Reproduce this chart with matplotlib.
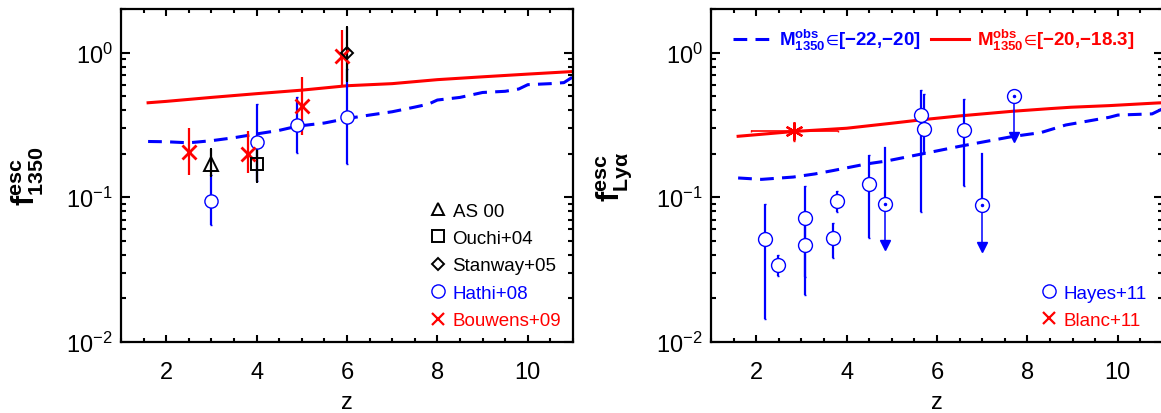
import numpy as np
import matplotlib
matplotlib.use('Agg')
import matplotlib.pyplot as plt
from matplotlib.lines import Line2D
from matplotlib.ticker import MultipleLocator, LogLocator, NullFormatter

plt.rcParams['font.family'] = ['Liberation Sans', 'DejaVu Sans']
plt.rcParams['mathtext.fontset'] = 'custom'
plt.rcParams['mathtext.rm'] = 'Liberation Sans'
plt.rcParams['mathtext.it'] = 'Liberation Sans:italic'
plt.rcParams['mathtext.bf'] = 'Liberation Sans:bold'
plt.rcParams['mathtext.fallback'] = 'stix'

# ---- left panel: f_esc 1350 ----
left_red_z = [1.6, 2.0, 3.0, 4.0, 5.0, 6.0, 7.0, 8.0, 9.0, 10.0, 11.0]
left_red_f = [0.45, 0.46, 0.49, 0.52, 0.55, 0.59, 0.61, 0.65, 0.68, 0.71, 0.74]
left_blue_z = [1.6, 2.0, 2.5, 3.0, 3.5, 4.0, 4.5, 4.9, 5.5, 6.0, 6.5, 7.0, 7.5, 7.8,
               8.0, 8.5, 9.0, 9.5, 9.8, 10.0, 10.5, 10.8, 11.0]
left_blue_f = [0.243, 0.242, 0.238, 0.246, 0.258, 0.274, 0.29, 0.31, 0.326, 0.35, 0.37,
               0.39, 0.42, 0.44, 0.47, 0.49, 0.53, 0.54, 0.56, 0.60, 0.61, 0.62, 0.68]

bouwens_z = [2.5, 3.8, 5.0, 5.9]
bouwens_f = [0.205, 0.20, 0.43, 0.94]
bouwens_lo = [0.143, 0.148, 0.27, 0.585]
bouwens_hi = [0.30, 0.285, 0.68, 1.44]

hathi_z = [3.0, 4.0, 4.9, 6.0]
hathi_f = [0.095, 0.24, 0.318, 0.357]
hathi_lo = [0.064, 0.13, 0.203, 0.17]
hathi_hi = [0.142, 0.44, 0.49, 0.77]

as00_z, as00_f, as00_lo, as00_hi = [3.0], [0.17], [0.14], [0.216]
ouchi_z, ouchi_f, ouchi_lo, ouchi_hi = [4.0], [0.17], [0.127], [0.22]
stanway_z, stanway_f, stanway_lo, stanway_hi = [6.0], [1.0], [0.64], [1.51]

# ---- right panel: f_esc Lya ----
right_red_z = [1.6, 2.84, 4.0, 5.0, 5.69, 6.5, 7.67, 8.5, 8.96, 9.81, 10.9, 11.0]
right_red_f = [0.264, 0.285, 0.30, 0.325, 0.344, 0.365, 0.393, 0.41, 0.419, 0.43, 0.449, 0.45]
right_blue_z = [1.6, 2.12, 2.82, 3.3, 3.7, 4.44, 4.88, 5.69, 6.5, 7.67, 8.3, 8.85,
                9.81, 10.0, 10.76, 11.0]
right_blue_f = [0.136, 0.133, 0.138, 0.145, 0.153, 0.17, 0.178, 0.2, 0.225, 0.263, 0.28,
                0.316, 0.357, 0.37, 0.377, 0.41]

hayes_z = [2.19, 2.49, 3.09, 3.09, 3.69, 3.79, 4.49, 5.65, 5.72, 6.59]
hayes_f = [0.0517, 0.0342, 0.0718, 0.0465, 0.0523, 0.095, 0.124, 0.372, 0.297, 0.294]
hayes_lo = [0.0145, 0.0286, 0.028, 0.021, 0.0383, 0.079, 0.0526, 0.079, 0.205, 0.119]
hayes_hi = [0.090, 0.040, 0.119, 0.075, 0.0667, 0.111, 0.196, 0.548, 0.517, 0.478]

# upper limits
lim_z = [4.86, 6.99, 7.70]
lim_f = [0.090, 0.088, 0.499]
lim_hi = [0.22, 0.20, 0.499]
lim_end = [0.0465, 0.0454, 0.26]

blanc_z, blanc_f = [2.84], [0.289]
blanc_zlo, blanc_zhi = [1.88], [3.80]
blanc_lo, blanc_hi = [0.246], [0.327]

BLUE = '#0000ff'
RED = '#ff0000'


def err(f, lo, hi):
    f = np.array(f)
    return [f - np.array(lo), np.array(hi) - f]


def style_axes(ax):
    ax.set_yscale('log')
    ax.set_xlim(1, 11)
    ax.set_ylim(0.01, 2)
    ax.xaxis.set_major_locator(MultipleLocator(2))
    ax.xaxis.set_minor_locator(MultipleLocator(0.5))
    ax.yaxis.set_major_locator(LogLocator(base=10, numticks=10))
    ax.yaxis.set_minor_locator(LogLocator(base=10, subs=np.arange(2, 10), numticks=20))
    ax.yaxis.set_minor_formatter(NullFormatter())
    ax.tick_params(which='both', direction='in', top=True, right=True, width=1.5)
    ax.tick_params(axis='x', which='major', length=5, pad=14, labelsize=17)
    ax.tick_params(axis='x', which='minor', length=3)
    ax.tick_params(axis='y', which='major', length=6.5, pad=6, labelsize=17)
    ax.tick_params(axis='y', which='minor', length=3.6)
    for s in ax.spines.values():
        s.set_linewidth(1.6)
    ax.set_xlabel('z', fontsize=17)
    ax.xaxis.set_label_coords(0.5, -0.147)
    ax.xaxis.label.set_va('top')


fig = plt.figure(figsize=(11.61, 4.14), dpi=100)
ax1 = fig.add_axes([0.1042, 0.1715, 0.3893, 0.8043])
ax2 = fig.add_axes([0.6124, 0.1715, 0.3893, 0.8043])

# left panel
ax1.plot(left_red_z, left_red_f, color=RED, lw=2.2)
ax1.plot(left_blue_z, left_blue_f, color=BLUE, lw=2.2, dashes=(4.5, 2.7))
ax1.errorbar(hathi_z, hathi_f, yerr=err(hathi_f, hathi_lo, hathi_hi), fmt='o', ms=9.5,
             mfc='white', mec=BLUE, mew=1.0, ecolor=BLUE, elinewidth=1.6, capsize=1)
ax1.errorbar(bouwens_z, bouwens_f, yerr=err(bouwens_f, bouwens_lo, bouwens_hi), fmt='x',
             ms=10, mec=RED, mew=2, ecolor=RED, elinewidth=1.6, capsize=0)
ax1.errorbar(as00_z, as00_f, yerr=err(as00_f, as00_lo, as00_hi), fmt='^', ms=9.5,
             mfc='none', mec='black', mew=1.4, ecolor='black', elinewidth=1.6, capsize=1)
ax1.errorbar(ouchi_z, ouchi_f, yerr=err(ouchi_f, ouchi_lo, ouchi_hi), fmt='s', ms=9,
             mfc='none', mec='black', mew=1.4, ecolor='black', elinewidth=1.6, capsize=1)
ax1.errorbar(stanway_z, stanway_f, yerr=err(stanway_f, stanway_lo, stanway_hi), fmt='D',
             ms=6.5, mfc='none', mec='black', mew=1.4, ecolor='black', elinewidth=1.6,
             capsize=1)
style_axes(ax1)
ax1.set_ylabel(r'$\mathbf{f^{esc}_{1350}}$', fontsize=22)
ax1.yaxis.set_label_coords(-0.165, 0.5)

h1 = [Line2D([], [], ls='none', marker='^', ms=9, mfc='none', mec='black', mew=1.4),
      Line2D([], [], ls='none', marker='s', ms=9, mfc='none', mec='black', mew=1.4),
      Line2D([], [], ls='none', marker='D', ms=6.5, mfc='none', mec='black', mew=1.4),
      Line2D([], [], ls='none', marker='o', ms=9.5, mfc='none', mec=BLUE, mew=1.0),
      Line2D([], [], ls='none', marker='x', ms=9, mec=RED, mew=1.6)]
ax1.legend(h1, ['AS 00', 'Ouchi+04', 'Stanway+05', 'Hathi+08', 'Bouwens+09'],
           labelcolor=['black', 'black', 'black', BLUE, RED], loc='upper left',
           bbox_to_anchor=(0.69, 0.419), frameon=False, fontsize=13.5, handlelength=0.6,
           handletextpad=0.45, labelspacing=0.55, borderpad=0, borderaxespad=0)

# right panel
ax2.plot(right_red_z, right_red_f, color=RED, lw=2.2)
ax2.plot(right_blue_z, right_blue_f, color=BLUE, lw=2.2, dashes=(4.5, 2.7))
ax2.errorbar(hayes_z, hayes_f, yerr=err(hayes_f, hayes_lo, hayes_hi), fmt='o', ms=10,
             mfc='white', mec=BLUE, mew=1.0, ecolor=BLUE, elinewidth=1.6, capsize=1)
ax2.plot(hayes_z, hayes_f, ls='none', marker='o', ms=1.5, color=BLUE)
for z, f, hi, end in zip(lim_z, lim_f, lim_hi, lim_end):
    ax2.plot([z, z], [f, hi], color=BLUE, lw=1.6)
    ax2.plot([z, z], [f, end], color=BLUE, lw=1.1)
ax2.plot(lim_z, lim_end, ls='none', marker='v', ms=7, color=BLUE)
ax2.plot(lim_z, lim_f, ls='none', marker='o', ms=10, mfc='white', mec=BLUE, mew=1.0)
ax2.plot(lim_z, lim_f, ls='none', marker='o', ms=1.5, color=BLUE)
ax2.errorbar(blanc_z, blanc_f, yerr=err(blanc_f, blanc_lo, blanc_hi),
             xerr=err(blanc_z, blanc_zlo, blanc_zhi), fmt='none', ecolor=RED,
             elinewidth=1.2, capsize=1)
ax2.plot(blanc_z, blanc_f, ls='none', marker=(6, 2, 0), ms=13, mec=RED, mew=1.6)
style_axes(ax2)
ax2.set_ylabel(r'$\mathbf{f^{esc}_{Ly\alpha}}$', fontsize=22)
ax2.yaxis.set_label_coords(-0.17, 0.5)

h2 = [Line2D([], [], color=BLUE, lw=2.2, dashes=(4.5, 2.7)),
      Line2D([], [], color=RED, lw=2.2)]
top_labels = [r'$\mathbf{M^{obs}_{1350}}\!\in\!$' + '[\u221222,\u221220]',
              r'$\mathbf{M^{obs}_{1350}}\!\in\!$' + '[\u221220,\u221218.3]']
leg_top = ax2.legend(h2, top_labels, labelcolor=[BLUE, RED], ncol=2, loc='upper left',
                     bbox_to_anchor=(0.048, 0.945), frameon=False,
                     prop={'size': 13.5, 'weight': 'bold'},
                     handlelength=2.0, handletextpad=0.45, columnspacing=0.6,
                     borderpad=0, borderaxespad=0)
ax2.add_artist(leg_top)

h3 = [Line2D([], [], ls='none', marker='o', ms=9.5, mfc='none', mec=BLUE, mew=1.0),
      Line2D([], [], ls='none', marker='x', ms=9, mec=RED, mew=1.6)]
ax2.legend(h3, ['Hayes+11', 'Blanc+11'], labelcolor=[BLUE, RED], loc='upper left',
           bbox_to_anchor=(0.736, 0.173), frameon=False, fontsize=13.5, handlelength=0.6,
           handletextpad=0.45, labelspacing=0.55, borderpad=0, borderaxespad=0)

fig.savefig('out.png', dpi=100)
